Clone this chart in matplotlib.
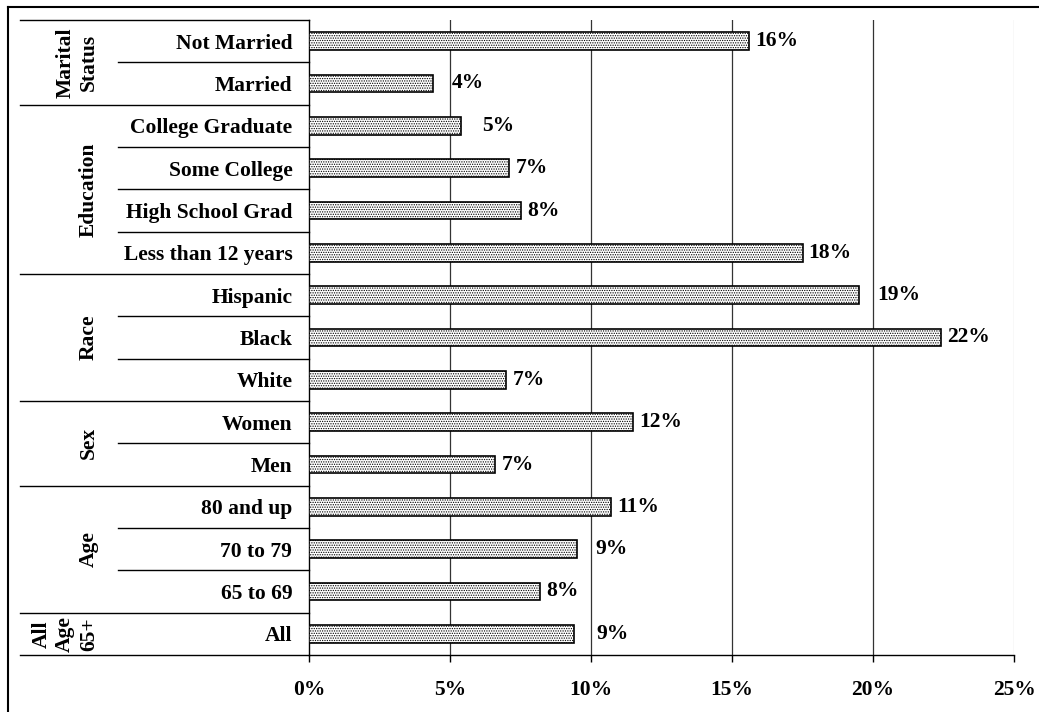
import matplotlib.pyplot as plt
from matplotlib.lines import Line2D
from matplotlib.transforms import blended_transform_factory

# rows from top to bottom
categories = ['Not Married', 'Married',
              'College Graduate', 'Some College', 'High School Grad', 'Less than 12 years',
              'Hispanic', 'Black', 'White',
              'Women', 'Men',
              '80 and up', '70 to 79', '65 to 69',
              'All']
values = [15.6, 4.4, 5.4, 7.1, 7.5, 17.5, 19.5, 22.4, 7.0, 11.5, 6.6, 10.7, 9.5, 8.2, 9.4]
value_labels = ['16%', '4%', '5%', '7%', '8%', '18%', '19%', '22%', '7%',
                '12%', '7%', '11%', '9%', '8%', '9%']
groups = ['Marital\nStatus', 'Education', 'Race', 'Sex', 'Age', 'All\nAge\n65+']
group_sizes = [2, 4, 3, 2, 3, 1]

# extra gap (in pixels) for labels that got pushed past a gridline
extra_pad = {1: 12, 2: 15, 6: 12, 12: 12, 14: 16}

FS = 15.5
plt.rcParams['font.family'] = 'Liberation Serif'
plt.rcParams['font.weight'] = 'bold'
plt.rcParams['hatch.color'] = '#8a8a8a'
plt.rcParams['hatch.linewidth'] = 0.6

W, H = 1039, 712
fig = plt.figure(figsize=(W / 100, H / 100), dpi=100)
ax = fig.add_axes([309 / W, 1 - 655 / H, (1014 - 309) / W, (655 - 20) / H])

n = len(categories)
ypos = list(range(n))
ax.barh(ypos, values, height=0.41, color='white', edgecolor='black',
        linewidth=1.2, hatch='.......', zorder=3)

ax.set_ylim(n - 0.5, -0.5)
ax.set_xlim(0, 25)
ax.set_xticks([0, 5, 10, 15, 20, 25])
ax.set_xticklabels(['0%', '5%', '10%', '15%', '20%', '25%'], fontsize=FS, fontweight='bold')
ax.set_yticks(ypos)
ax.set_yticklabels(categories, fontsize=FS, fontweight='bold')
ax.tick_params(axis='y', length=0, pad=12)
ax.tick_params(axis='x', length=5, width=1, direction='out', pad=13)

for g in [5, 10, 15, 20]:
    ax.axvline(g, color='#333333', linewidth=0.9, zorder=1)
ax.axvline(25, color='#cccccc', linewidth=0.9, zorder=1)

for s in ['top', 'right']:
    ax.spines[s].set_visible(False)
ax.spines['left'].set_linewidth(1)
ax.spines['bottom'].set_linewidth(1)

# value labels
for i, (v, lab) in enumerate(zip(values, value_labels)):
    ax.annotate(lab, (v, i), xytext=(4.5 + extra_pad.get(i, 0) * 0.72, 0),
                textcoords='offset points', va='center', ha='left',
                fontsize=FS, fontweight='bold')

# table lines on the left
tr = blended_transform_factory(fig.transFigure, ax.transData)
x_axis = 309 / W
start = -0.5
for gname, size in zip(groups, group_sizes):
    ax.plot([20 / W, x_axis], [start, start], color='black', lw=1, transform=tr, clip_on=False)
    for k in range(1, size):
        ax.plot([118 / W, x_axis], [start + k, start + k], color='black', lw=1,
                transform=tr, clip_on=False)
    ax.text(99 / W, start + size / 2, gname, transform=tr, rotation=90,
            ha='right', va='center', multialignment='center',
            fontsize=FS, fontweight='bold', linespacing=1.25)
    start += size
ax.plot([20 / W, x_axis], [start, start], color='black', lw=1, transform=tr, clip_on=False)

# outer frame
fig.add_artist(Line2D([8 / W, 1], [1 - 7 / H, 1 - 7 / H], color='black', lw=1.5))
fig.add_artist(Line2D([8 / W, 8 / W], [0, 1 - 7 / H], color='black', lw=1.5))

plt.savefig('out.png', dpi=100)
